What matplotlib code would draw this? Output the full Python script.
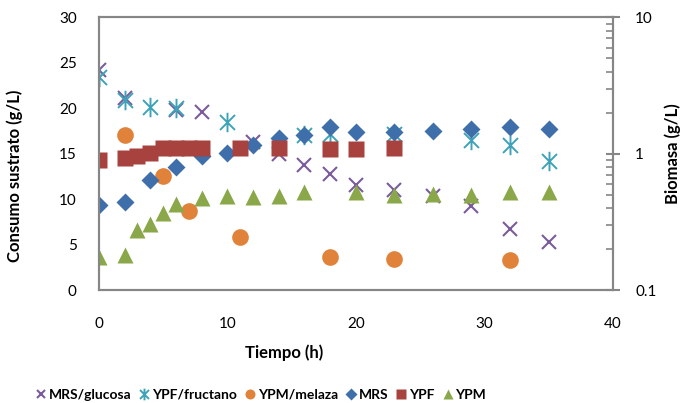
import numpy as np
import matplotlib
matplotlib.use("Agg")
import matplotlib.pyplot as plt
from matplotlib.path import Path
from matplotlib.ticker import FixedLocator, NullFormatter

plt.rcParams['font.family'] = ['Lato', 'DejaVu Sans']

# sustrato (eje izquierdo, g/L)
t_glu = [0, 2, 6, 8, 12, 14, 16, 18, 20, 23, 26, 29, 32, 35]
glucosa = [24.2, 21.1, 19.8, 19.6, 16.3, 15.0, 13.8, 12.8, 11.6, 11.0, 10.3, 9.2, 6.7, 5.3]
t_fru = [0, 2, 4, 6, 10, 16, 18, 23, 29, 32, 35]
fructano = [23.4, 20.9, 20.1, 20.0, 18.5, 17.1, 17.2, 17.2, 16.5, 16.0, 14.2]
t_mel = [2, 5, 7, 11, 18, 23, 32]
melaza = [17.1, 12.6, 8.7, 5.9, 3.7, 3.4, 3.3]

# biomasa (eje derecho, log)
t_mrs = [0, 2, 4, 6, 8, 10, 12, 14, 16, 18, 20, 23, 26, 29, 32, 35]
mrs = [0.42, 0.445, 0.64, 0.80, 0.96, 1.02, 1.15, 1.30, 1.37, 1.56, 1.44, 1.44, 1.47, 1.52, 1.56, 1.52]
t_ypf = [0, 2, 3, 4, 5, 6, 7, 8, 11, 14, 18, 20, 23]
ypf = [0.90, 0.925, 0.97, 1.02, 1.10, 1.11, 1.11, 1.11, 1.10, 1.11, 1.08, 1.08, 1.11]
t_ypm = [0, 2, 3, 4, 5, 6, 8, 10, 12, 14, 16, 20, 23, 26, 29, 32, 35]
ypm = [0.175, 0.18, 0.275, 0.305, 0.365, 0.425, 0.476, 0.49, 0.48, 0.49, 0.527, 0.527, 0.50, 0.51, 0.50, 0.52, 0.52]

star = Path([(-1, -1), (1, 1), (-1, 1), (1, -1), (0, -1.3), (0, 1.3)],
            [Path.MOVETO, Path.LINETO, Path.MOVETO, Path.LINETO, Path.MOVETO, Path.LINETO])

fig = plt.figure(figsize=(6.87, 4.03), dpi=100)
ax = fig.add_axes([0.144, 0.280, 0.748, 0.677])
ax2 = ax.twinx()

gray = '#868686'
h1, = ax.plot(t_glu, glucosa, ls='none', marker='x', ms=9.5, mew=1.5, color='#7A5C9A', label='MRS/glucosa')
h2, = ax.plot(t_fru, fructano, ls='none', marker=star, ms=14, mew=1.4, color='#3EA3B8', label='YPF/fructano')
h3, = ax.plot(t_mel, melaza, ls='none', marker='o', ms=12, color='#E0823A', mec='none', label='YPM/melaza')
h4, = ax2.plot(t_mrs, mrs, ls='none', marker='D', ms=9.5, color='#3F6FAA', mec='none', label='MRS')
h5, = ax2.plot(t_ypf, ypf, ls='none', marker='s', ms=11, color='#A8423F', mec='none', label='YPF')
h6, = ax2.plot(t_ypm, ypm, ls='none', marker='^', ms=11, color='#8AA84A', mec='none', label='YPM')

ax.set_xlim(0, 40)
ax.set_ylim(0, 30)
ax.set_xticks([0, 10, 20, 30, 40])
ax.set_yticks([0, 5, 10, 15, 20, 25, 30])
ax2.set_yscale('log')
ax2.set_ylim(0.1, 10)
ax2.yaxis.set_major_locator(FixedLocator([0.1, 1, 10]))
ax2.set_yticklabels(['0.1', '1', '10'])
minors = [m * d for d in (0.1, 1) for m in range(2, 10)]
ax2.yaxis.set_minor_locator(FixedLocator(minors))
ax2.yaxis.set_minor_formatter(NullFormatter())

for a in (ax, ax2):
    for s in a.spines.values():
        s.set_color(gray)
        s.set_linewidth(1.5)

ax.tick_params(axis='both', length=0, labelsize=11, colors='black')
ax.tick_params(axis='x', pad=19)
ax.tick_params(axis='y', pad=16)
ax2.tick_params(axis='y', which='major', direction='inout', length=10, width=1.5, color=gray, labelsize=11, pad=11)
ax2.tick_params(axis='y', which='minor', direction='in', length=5, width=1.2, color=gray)

ax.set_xlabel('Tiempo (h)', fontsize=12, fontweight='bold')
ax.xaxis.set_label_coords(0.36, -0.2)
ax.set_ylabel('Consumo sustrato (g/L)', fontsize=12, fontweight='bold')
ax.yaxis.set_label_coords(-0.148, 0.42)
ax2.set_ylabel('Biomasa (g/L)', fontsize=12, fontweight='bold', rotation=90)
ax2.yaxis.set_label_coords(1.1, 0.5)

fig.legend(handles=[h1, h2, h3, h4, h5, h6], loc='center', bbox_to_anchor=(0.381, 0.02),
           ncol=6, frameon=False, handlelength=0.5, handletextpad=0.3, columnspacing=0.7,
           markerscale=0.6, prop={'weight': 'bold', 'size': 10})

fig.savefig('out.png', dpi=100)
